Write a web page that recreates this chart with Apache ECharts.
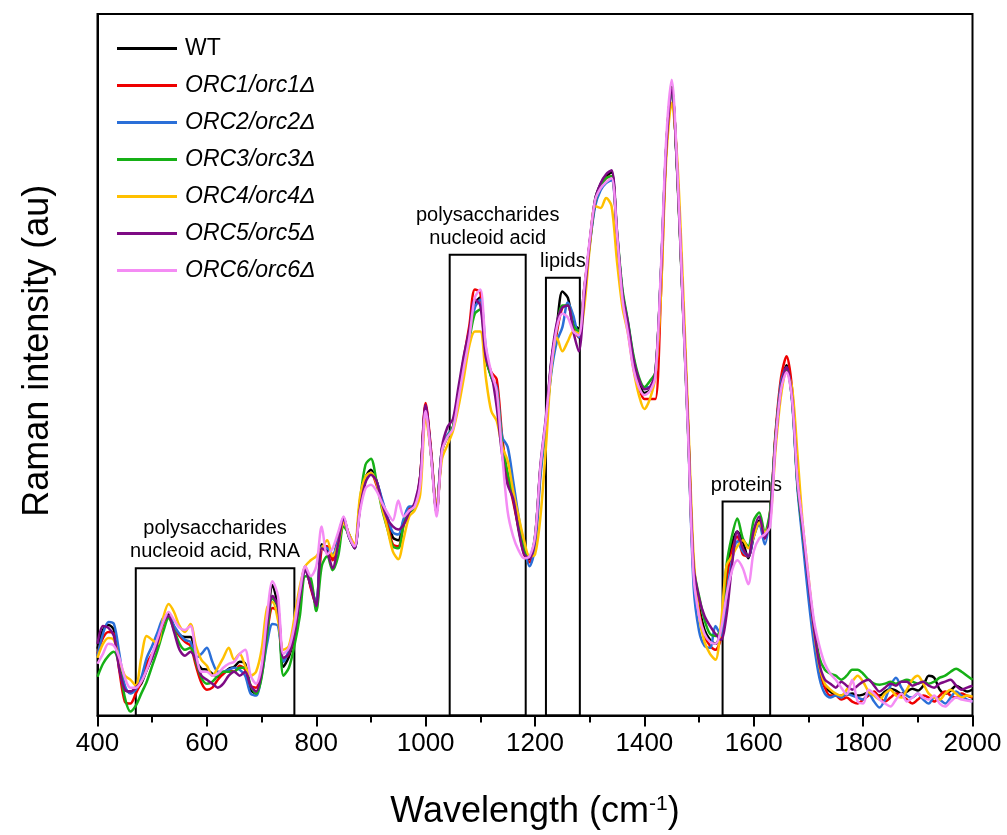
<!DOCTYPE html>
<html><head><meta charset="utf-8">
<script src="https://cdn.jsdelivr.net/npm/echarts@6/dist/echarts.min.js"></script>
<style>html,body{margin:0;padding:0;background:#fff}#c{width:1007px;height:835px}</style>
</head><body><div id="c"></div>
<script>
// Raman shift grid (cm-1), one sample every 10 cm-1 from 400 to 2000
const wavenumbers = [];
for (let w = 400; w <= 2000; w += 10) wavenumbers.push(w);

const seriesNames = ['WT', 'ORC1/orc1Δ', 'ORC2/orc2Δ', 'ORC3/orc3Δ', 'ORC4/orc4Δ', 'ORC5/orc5Δ', 'ORC6/orc6Δ'];
const seriesColors = ['#000000', '#ee0000', '#2a6fd8', '#16b016', '#ffc000', '#7e0a84', '#f48cf4'];

const wt = [
  67, 86, 91, 86, 52, 26, 24, 26, 32, 46,
  59, 76, 96, 102, 89, 81, 79, 79, 56, 47,
  46, 42, 39, 42, 47, 49, 54, 52, 26, 22,
  42, 89, 131, 109, 49, 59, 79, 119, 148, 130,
  112, 172, 166, 159, 179, 199, 179, 169, 212, 239,
  247, 236, 216, 199, 179, 176, 196, 206, 209, 239,
  311, 262, 206, 269, 281, 289, 322, 356, 382, 414,
  420, 359, 341, 324, 269, 241, 219, 189, 164, 157,
  179, 249, 296, 356, 392, 426, 420, 394, 389, 429,
  475, 519, 534, 542, 546, 482, 422, 392, 356, 336,
  324, 327, 342, 442, 572, 632, 546, 416, 284, 142,
  109, 86, 76, 72, 84, 142, 172, 185, 175, 158,
  180, 196, 180, 200, 282, 332, 352, 319, 232, 179,
  129, 82, 46, 29, 24, 21, 20, 21, 22, 20,
  21, 23, 22, 20, 24, 27, 25, 22, 24, 27,
  25, 30, 40, 38, 26, 22, 25, 30, 27, 24,
  26
];
const orc1 = [
  62, 78, 84, 82, 45, 14, 12, 22, 34, 52,
  62, 70, 92, 100, 88, 80, 74, 70, 50, 33,
  26, 28, 36, 42, 46, 44, 50, 46, 30, 28,
  46, 82, 108, 104, 56, 62, 82, 122, 150, 128,
  110, 168, 170, 156, 178, 196, 182, 170, 210, 236,
  244, 232, 214, 195, 172, 170, 192, 208, 210, 240,
  314, 266, 204, 266, 280, 290, 324, 360, 392, 428,
  425, 365, 345, 338, 280, 240, 215, 188, 162, 154,
  175, 245, 295, 350, 385, 410, 412, 390, 380, 428,
  474, 515, 532, 540, 542, 480, 420, 388, 350, 330,
  318, 318, 318, 420, 570, 630, 550, 420, 290, 145,
  105, 80, 70, 66, 78, 135, 165, 180, 162, 160,
  184, 192, 178, 205, 285, 340, 361, 328, 238, 185,
  132, 86, 48, 28, 20, 20, 16, 18, 14, 12,
  16, 20, 24, 18, 14, 18, 22, 20, 16, 12,
  16, 20, 18, 14, 20, 24, 20, 18, 22, 20,
  18
];
const orc2 = [
  60, 82, 94, 92, 62, 30, 22, 26, 38, 58,
  70, 84, 98, 100, 90, 82, 76, 74, 58, 62,
  68, 54, 44, 44, 46, 48, 46, 40, 22, 20,
  40, 72, 92, 90, 54, 66, 90, 120, 146, 132,
  112, 170, 168, 162, 176, 196, 180, 168, 210, 236,
  244, 236, 218, 200, 184, 182, 198, 210, 210, 236,
  308, 262, 208, 268, 282, 290, 320, 354, 382, 410,
  418, 370, 340, 330, 280, 270, 236, 200, 170, 150,
  168, 240, 292, 345, 376, 390, 415, 402, 380, 420,
  472, 512, 528, 535, 538, 484, 425, 395, 360, 338,
  330, 330, 340, 440, 570, 628, 550, 420, 286, 130,
  85, 70, 68, 90, 80, 120, 155, 175, 165, 160,
  180, 192, 172, 204, 280, 335, 350, 316, 228, 172,
  118, 72, 38, 22, 18, 20, 18, 22, 20, 18,
  16, 22, 14, 8, 16, 30, 38, 28, 20, 18,
  22, 16, 12, 18, 16, 12, 18, 24, 20, 16,
  14
];
const orc3 = [
  39, 52, 60, 64, 50, 18, 4, 10, 22, 34,
  50, 66, 84, 98, 86, 72, 66, 68, 54, 38,
  32, 34, 40, 44, 44, 44, 48, 48, 30, 22,
  38, 80, 118, 108, 40, 48, 70, 100, 140, 138,
  105, 150, 160, 146, 160, 190, 182, 168, 216, 252,
  258, 236, 208, 188, 170, 168, 192, 204, 208, 236,
  306, 262, 204, 266, 280, 290, 320, 352, 378, 404,
  408, 360, 340, 326, 272, 244, 220, 192, 166, 160,
  180, 248, 294, 350, 390, 412, 412, 392, 386, 426,
  474, 516, 532, 540, 542, 486, 428, 396, 362, 340,
  330, 336, 345, 440, 570, 630, 548, 418, 285, 150,
  120, 96, 82, 80, 86, 150, 180, 198, 178, 170,
  196, 204, 184, 206, 280, 330, 348, 318, 232, 182,
  136, 92, 58, 46, 42, 40, 36, 40, 46, 46,
  42, 36, 32, 31, 32, 34, 32, 34, 36, 34,
  32, 34, 32, 34, 38, 40, 44, 47, 44, 40,
  36
];
const orc4 = [
  58, 72, 78, 76, 56, 40, 36, 30, 58, 80,
  76, 72, 98, 112, 104, 90, 84, 92, 70, 56,
  50, 40, 48, 58, 68, 56, 62, 50, 40, 44,
  66, 108, 114, 96, 66, 70, 98, 130, 150, 156,
  160, 168, 176, 160, 172, 194, 182, 172, 220, 240,
  244, 234, 210, 188, 165, 157, 178, 200, 206, 222,
  300, 262, 210, 258, 272, 286, 310, 340, 372, 386,
  386, 340, 306, 296, 270, 256, 226, 200, 176, 160,
  162, 200, 270, 350, 380, 366, 376, 386, 384, 410,
  470, 512, 510, 520, 512, 456, 410, 384, 348, 322,
  308, 318, 340, 420, 560, 616, 560, 440, 300, 160,
  100, 74, 62, 56, 92, 150, 160, 170, 176, 168,
  180, 194, 184, 196, 268, 322, 345, 330, 262, 190,
  140, 86, 50, 32, 26, 22, 20, 26, 34, 40,
  34, 24, 20, 16, 22, 26, 20, 18, 26, 36,
  40, 32, 22, 18, 16, 22, 26, 22, 18, 20,
  19
];
const orc5 = [
  72, 90, 88, 80, 46, 26, 24, 28, 34, 46,
  58, 74, 94, 100, 84, 66, 60, 64, 56, 40,
  36, 32, 28, 32, 40, 44, 40, 44, 30, 24,
  44, 90, 120, 110, 58, 62, 82, 118, 146, 130,
  110, 168, 164, 148, 172, 198, 180, 168, 208, 234,
  242, 236, 214, 198, 190, 187, 192, 204, 214, 240,
  312, 264, 204, 270, 290, 298, 330, 362, 388, 418,
  412, 360, 344, 310, 262, 232, 218, 186, 162, 158,
  178, 252, 300, 358, 395, 410, 412, 386, 366, 420,
  476, 518, 535, 544, 548, 486, 424, 394, 358, 338,
  328, 330, 345, 440, 570, 630, 548, 420, 290, 150,
  118, 100, 90, 82, 76, 100, 150, 185, 168, 160,
  186, 200, 178, 200, 276, 330, 350, 320, 236, 185,
  134, 88, 52, 36, 32, 28, 34, 30, 26, 30,
  34, 36, 30, 24, 28, 32, 30, 34, 34, 30,
  32, 34, 30, 28, 32, 34, 36, 30, 26, 28,
  30
];
const orc6 = [
  52, 62, 72, 70, 58, 38, 28, 28, 34, 46,
  62, 78, 94, 104, 96, 88, 86, 90, 62, 44,
  44, 40, 42, 48, 52, 54, 62, 66, 40, 32,
  50, 100, 135, 120, 62, 68, 90, 125, 150, 140,
  150, 190, 162, 168, 184, 200, 180, 170, 205, 228,
  232, 226, 214, 204, 196, 216, 200, 206, 210, 232,
  306, 260, 200, 266, 280, 288, 318, 350, 380, 420,
  428, 372, 345, 326, 262, 205, 180, 166, 158, 160,
  180, 250, 298, 352, 390, 404, 400, 386, 382, 430,
  478, 518, 530, 536, 540, 484, 418, 384, 348, 330,
  322, 326, 340, 446, 580, 639, 552, 418, 280, 140,
  100, 82, 74, 72, 86, 120, 145, 156, 148, 132,
  165, 178, 182, 190, 276, 328, 345, 318, 236, 190,
  140, 96, 70, 52, 42, 36, 28, 21, 36, 14,
  12, 26, 22, 16, 12, 9, 16, 22, 14, 18,
  22, 18, 16, 20, 12, 9, 14, 18, 16, 15,
  14
];
const seriesValues = [wt, orc1, orc2, orc3, orc4, orc5, orc6];

// Annotated spectral regions: [from cm-1, to cm-1, box top (au), label]
const regions = [
  [470, 760, 148, 'polysaccharides\nnucleoid acid, RNA'],
  [1044, 1183, 463, 'polysaccharides\nnucleoid acid'],
  [1220, 1282, 440, 'lipids'],
  [1543, 1630, 215, 'proteins']
];

const FONT = '"Liberation Sans", Arial, sans-serif';

const series = seriesNames.map((name, i) => ({
  name: name,
  type: 'line',
  data: wavenumbers.map((w, k) => [w, seriesValues[i][k]]),
  showSymbol: false,
  symbol: 'none',
  smooth: 0.3,
  lineStyle: { width: 2.5, color: seriesColors[i] },
  itemStyle: { color: seriesColors[i] },
  emphasis: { disabled: true },
  z: 2 + i
}));

series.push({
  name: 'regions',
  type: 'line',
  data: [],
  silent: true,
  z: 20,
  markArea: {
    silent: true,
    itemStyle: { color: 'rgba(0,0,0,0)', borderColor: '#000', borderWidth: 2 },
    label: {
      show: true, position: 'top', distance: 4, color: '#000',
      fontFamily: FONT, fontSize: 20, lineHeight: 23, align: 'center'
    },
    data: regions.map(r => [
      { name: r[3], coord: [r[0], 0] },
      { coord: [r[1], r[2]] }
    ])
  }
});

const chart = echarts.init(document.getElementById('c'), null, { renderer: 'canvas' });
chart.setOption({
  backgroundColor: '#fff',
  animation: false,
  grid: { left: 97.5, right: 34.5, top: 14, bottom: 116, show: true, borderColor: '#000', borderWidth: 2, backgroundColor: 'rgba(0,0,0,0)' },
  legend: {
    data: seriesNames,
    orient: 'vertical',
    left: 112, top: 32,
    icon: 'rect',
    itemWidth: 60, itemHeight: 3, itemGap: 14,
    textStyle: {
      fontFamily: FONT, fontSize: 23, color: '#000', padding: [0, 0, 0, 3],
      rich: { i: { fontStyle: 'italic', fontFamily: FONT, fontSize: 23, color: '#000' } }
    },
    formatter: n => n === 'WT' ? n : '{i|' + n + '}'
  },
  xAxis: {
    type: 'value', min: 400, max: 2000, interval: 200,
    name: 'Wavelength (cm{sup|-1})',
    nameLocation: 'middle', nameGap: 78,
    nameTextStyle: {
      fontFamily: FONT, fontSize: 36, color: '#000',
      rich: { sup: { fontFamily: FONT, fontSize: 21, color: '#000', verticalAlign: 'top', padding: [0, 0, 16, 0] } }
    },
    axisLine: { show: true, lineStyle: { color: '#000', width: 2 } },
    axisTick: { show: true, inside: false, length: 11, lineStyle: { color: '#000', width: 2 } },
    minorTick: { show: true, splitNumber: 2, length: 7, lineStyle: { color: '#000', width: 2 } },
    axisLabel: { fontFamily: FONT, fontSize: 26, color: '#000', margin: 15, formatter: v => String(v) },
    splitLine: { show: false }
  },
  yAxis: {
    type: 'value', min: 0, max: 705,
    name: 'Raman intensity (au)',
    nameLocation: 'middle', nameGap: 41,
    nameTextStyle: { fontFamily: FONT, fontSize: 36, color: '#000', padding: [0, 0, 0, 28] },
    axisLine: { show: true, lineStyle: { color: '#000', width: 2 } },
    axisTick: { show: false },
    axisLabel: { show: false },
    splitLine: { show: false }
  },
  series: series
});
</script>
</body></html>
